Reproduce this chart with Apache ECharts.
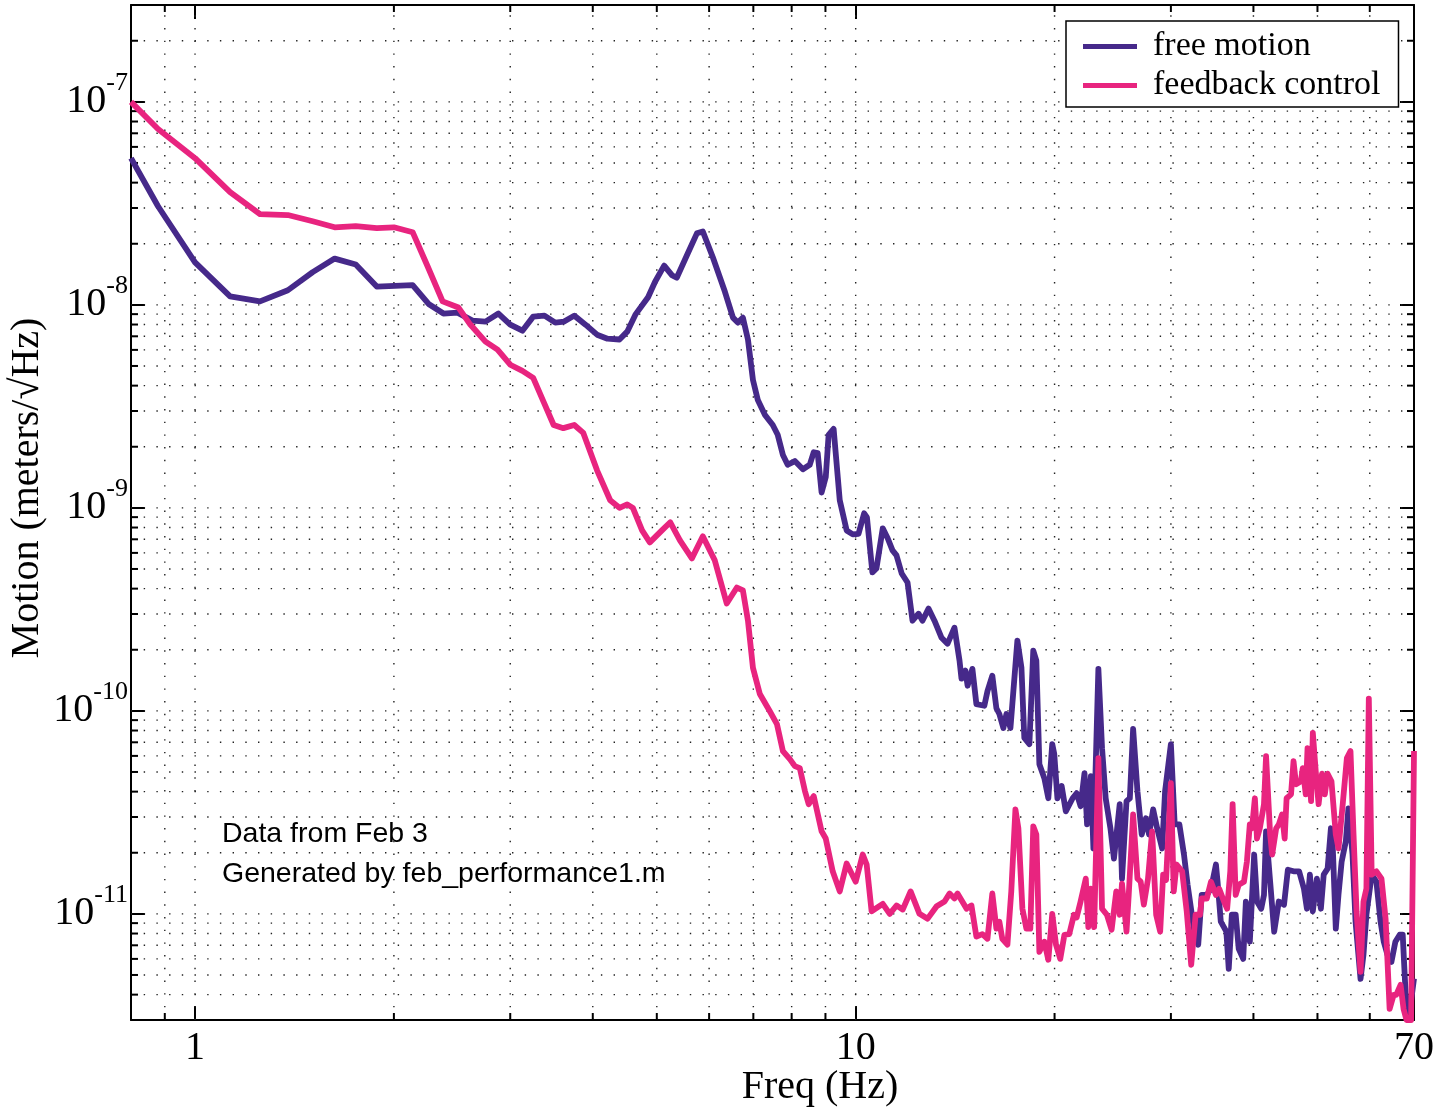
<!DOCTYPE html>
<html>
<head>
<meta charset="utf-8">
<title>free motion vs feedback control</title>
<script src="https://cdn.jsdelivr.net/npm/echarts@6/dist/echarts.min.js"></script>
<style>
  html, body { margin: 0; padding: 0; background: #fff; }
  #main { width: 1440px; height: 1111px; }
</style>
</head>
<body>
<div id="main"></div>
<script>
// free motion spectrum (Hz, meters/sqrt(Hz))
var freeFreq = [
  0.8, 0.879, 1.0, 1.13, 1.254, 1.382, 1.507, 1.627, 1.751, 1.884,
  2.135, 2.257, 2.377, 2.496, 2.63, 2.752, 2.879, 3.0, 3.13, 3.25,
  3.38, 3.51, 3.62, 3.75, 3.9, 4.06, 4.21, 4.39, 4.51, 4.64,
  4.85, 4.97, 5.13, 5.27, 5.36, 5.56, 5.75, 5.87, 6.08, 6.34,
  6.52, 6.63, 6.75, 6.87, 6.99, 7.11, 7.29, 7.49, 7.62, 7.76,
  7.89, 8.09, 8.32, 8.52, 8.64, 8.76, 8.88, 9.01, 9.1, 9.26,
  9.46, 9.69, 9.9, 10.1, 10.3, 10.4, 10.6, 10.75, 10.99, 11.18,
  11.37, 11.53, 11.74, 11.98, 12.19, 12.45, 12.62, 12.89, 13.16, 13.49,
  13.77, 14.11, 14.36, 14.46, 14.66, 14.77, 15.02, 15.23, 15.66, 15.83,
  16.1, 16.33, 16.5, 16.73, 16.91, 17.15, 17.57, 17.82, 18.0, 18.32,
  18.57, 18.77, 18.97, 19.3, 19.57, 19.84, 19.98, 20.2, 20.5, 20.8,
  21.3, 21.6, 21.9, 22.2, 22.4, 22.7, 22.9, 23.3, 23.6, 23.9,
  24.3, 24.6, 25.1, 25.3, 25.7, 26.0, 26.3, 26.7, 27.1, 27.5,
  27.8, 28.2, 28.6, 29.1, 29.4, 30.0, 30.4, 30.9, 31.4, 31.8,
  32.5, 33.0, 33.4, 34.0, 34.5, 35.1, 35.3, 35.7, 36.4, 36.7,
  37.1, 37.6, 38.0, 38.6, 38.96, 39.5, 40.1, 40.5, 41.1, 41.5,
  41.8, 42.4, 43.0, 43.7, 44.5, 45.1, 46.0, 46.9, 47.7, 48.2,
  48.7, 49.2, 49.9, 50.6, 51.1, 51.8, 52.4, 52.7, 53.3, 53.8,
  54.4, 55.2, 55.7, 56.5, 57.1, 58.1, 58.7, 59.3, 60.4, 61.4,
  62.3, 63.0, 63.8, 64.7, 65.6, 66.6, 67.3, 68.0, 68.7, 70
]
var freeAmp = [
  5.28e-8, 3.06e-8, 1.62e-8, 1.10e-8, 1.04e-8, 1.18e-8, 1.45e-8, 1.69e-8, 1.58e-8, 1.23e-8,
  1.25e-8, 1.01e-8, 9.06e-9, 9.16e-9, 8.36e-9, 8.27e-9, 9.06e-9, 7.99e-9, 7.46e-9, 8.75e-9,
  8.85e-9, 8.18e-9, 8.27e-9, 8.85e-9, 7.99e-9, 7.13e-9, 6.81e-9, 6.75e-9, 7.38e-9, 8.95e-9,
  1.09e-8, 1.30e-8, 1.56e-8, 1.40e-8, 1.36e-8, 1.77e-8, 2.25e-8, 2.30e-8, 1.71e-8, 1.16e-8,
  8.65e-9, 8.18e-9, 8.65e-9, 6.74e-9, 4.27e-9, 3.40e-9, 2.87e-9, 2.56e-9, 2.29e-9, 1.82e-9,
  1.63e-9, 1.70e-9, 1.55e-9, 1.63e-9, 1.88e-9, 1.86e-9, 1.19e-9, 1.42e-9, 2.29e-9, 2.45e-9,
  1.09e-9, 7.74e-10, 7.40e-10, 7.45e-10, 9.40e-10, 8.98e-10, 4.81e-10, 5.03e-10, 7.93e-10, 7.08e-10,
  6.17e-10, 5.83e-10, 4.75e-10, 4.29e-10, 2.78e-10, 3.01e-10, 2.78e-10, 3.19e-10, 2.78e-10, 2.29e-10,
  2.14e-10, 2.57e-10, 1.77e-10, 1.44e-10, 1.58e-10, 1.33e-10, 1.61e-10, 1.08e-10, 1.06e-10, 1.25e-10,
  1.49e-10, 1.03e-10, 9.65e-11, 8.23e-11, 9.65e-11, 8.23e-11, 2.22e-10, 1.63e-10, 7.35e-11, 6.86e-11,
  1.98e-10, 1.77e-10, 5.46e-11, 4.66e-11, 3.71e-11, 6.86e-11, 6.12e-11, 3.71e-11, 4.26e-11, 3.20e-11,
  3.71e-11, 3.93e-11, 3.39e-11, 4.93e-11, 2.76e-11, 4.77e-11, 2.10e-11, 1.61e-10, 6.55e-11, 3.71e-11,
  2.64e-11, 1.87e-11, 3.47e-11, 1.49e-11, 3.59e-11, 3.71e-11, 8.14e-11, 4.02e-11, 2.46e-11, 2.96e-11,
  2.46e-11, 3.27e-11, 2.64e-11, 2.10e-11, 4.02e-11, 6.86e-11, 2.76e-11, 2.76e-11, 1.96e-11, 1.39e-11,
  8.45e-12, 7.05e-12, 1.24e-11, 1.24e-11, 1.33e-11, 1.75e-11, 1.44e-11, 9.15e-12, 8.17e-12, 5.36e-12,
  9.9e-12, 9.9e-12, 6.73e-12, 6.0e-12, 1.15e-11, 7.29e-12, 1.96e-11, 1.15e-11, 1.06e-11, 1.24e-11,
  2.55e-11, 1.44e-11, 8.17e-12, 1.15e-11, 1.11e-11, 1.65e-11, 1.62e-11, 1.62e-11, 1.33e-11, 1.06e-11,
  1.56e-11, 1.03e-11, 1.49e-11, 1.06e-11, 1.56e-11, 1.67e-11, 2.64e-11, 2.28e-11, 8.45e-12, 1.24e-11,
  1.81e-11, 2.28e-11, 3.31e-11, 1.96e-11, 9.15e-12, 4.78e-12, 6.3e-12, 9.9e-12, 1.56e-11, 1.44e-11,
  9.15e-12, 7.29e-12, 6.3e-12, 5.8e-12, 7.29e-12, 7.89e-12, 7.89e-12, 3.99e-12, 3.0e-12, 4.8e-12
]

// feedback control spectrum
var fbFreq = [
  0.8, 0.879, 1.0, 1.13, 1.254, 1.382, 1.507, 1.627, 1.751, 1.884,
  2.0, 2.135, 2.249, 2.37, 2.505, 2.61, 2.752, 2.87, 3.0, 3.13,
  3.25, 3.37, 3.49, 3.61, 3.75, 3.87, 4.06, 4.25, 4.39, 4.51,
  4.6, 4.75, 4.88, 5.09, 5.24, 5.42, 5.65, 5.87, 6.12, 6.38,
  6.61, 6.75, 6.87, 6.99, 7.16, 7.41, 7.6, 7.76, 7.95, 8.09,
  8.23, 8.38, 8.49, 8.64, 8.88, 9.01, 9.23, 9.46, 9.69, 10.0,
  10.25, 10.39, 10.57, 10.99, 11.26, 11.53, 11.78, 12.11, 12.49, 12.85,
  13.26, 13.63, 13.87, 14.11, 14.26, 14.72, 14.97, 15.23, 15.55, 15.83,
  16.1, 16.33, 16.5, 16.67, 16.97, 17.2, 17.45, 17.63, 17.88, 18.13,
  18.38, 18.57, 18.77, 18.97, 19.3, 19.57, 19.84, 20.1, 20.4, 20.7,
  21.05, 21.4, 21.6, 21.9, 22.3, 22.5, 22.7, 22.96, 23.3, 23.6,
  24.0, 24.4, 24.8, 25.1, 25.3, 25.7, 25.9, 26.3, 26.7, 27.0,
  27.3, 27.7, 28.1, 28.5, 28.9, 29.2, 29.5, 30.0, 30.3, 30.6,
  31.2, 31.7, 32.2, 32.7, 33.2, 33.4, 34.0, 34.5, 35.1, 35.5,
  36.1, 36.5, 36.9, 37.2, 37.6, 38.0, 38.7, 39.1, 39.5, 39.8,
  40.2, 40.5, 40.9, 41.5, 41.8, 42.4, 42.7, 43.3, 43.7, 44.2,
  44.6, 44.9, 45.6, 46.0, 46.4, 47.2, 47.5, 48.0, 48.3, 48.9,
  49.2, 49.7, 50.2, 50.8, 51.3, 51.8, 52.5, 53.3, 53.8, 54.6,
  55.4, 56.1, 56.7, 57.3, 58.1, 58.7, 59.3, 59.8, 60.4, 61.4,
  62.5, 63.4, 64.3, 65.2, 65.8, 66.8, 67.5, 68.2, 69.3, 70
]
var fbAmp = [
  1.0e-7, 7.35e-8, 5.28e-8, 3.59e-8, 2.80e-8, 2.77e-8, 2.58e-8, 2.41e-8, 2.44e-8, 2.39e-8,
  2.41e-8, 2.28e-8, 1.55e-8, 1.04e-8, 9.7e-9, 8.0e-9, 6.59e-9, 6.02e-9, 5.07e-9, 4.73e-9,
  4.37e-9, 3.33e-9, 2.56e-9, 2.47e-9, 2.56e-9, 2.34e-9, 1.53e-9, 1.09e-9, 1.0e-9, 1.04e-9,
  1.0e-9, 7.75e-10, 6.76e-10, 7.75e-10, 8.49e-10, 6.92e-10, 5.64e-10, 7.24e-10, 5.51e-10, 3.38e-10,
  4.05e-10, 3.92e-10, 2.78e-10, 1.63e-10, 1.21e-10, 9.99e-11, 8.61e-11, 6.34e-11, 5.78e-11, 5.34e-11,
  5.22e-11, 4.02e-11, 3.47e-11, 3.80e-11, 2.55e-11, 2.35e-11, 1.62e-11, 1.29e-11, 1.77e-11, 1.44e-11,
  1.96e-11, 1.75e-11, 1.03e-11, 1.12e-11, 1.0e-11, 1.1e-11, 1.05e-11, 1.29e-11, 1.0e-11, 9.47e-12,
  1.09e-11, 1.15e-11, 1.26e-11, 1.19e-11, 1.26e-11, 1.06e-11, 1.1e-11, 7.72e-12, 7.95e-12, 7.54e-12,
  1.26e-11, 8.45e-12, 9.15e-12, 7.54e-12, 7.05e-12, 1.29e-11, 3.27e-11, 2.64e-11, 1.06e-11, 8.45e-12,
  8.45e-12, 2.70e-11, 2.46e-11, 6.5e-12, 7.29e-12, 5.94e-12, 1.0e-11, 7.05e-12, 6.0e-12, 7.89e-12,
  7.95e-12, 9.9e-12, 9.6e-12, 1.15e-11, 1.49e-11, 8.6e-12, 1.33e-11, 8.6e-12, 5.85e-11, 1.06e-11,
  9.9e-12, 8.35e-12, 1.29e-11, 9.9e-12, 1.41e-11, 8.17e-12, 1.24e-11, 3.09e-11, 1.49e-11, 1.44e-11,
  1.11e-11, 1.49e-11, 2.55e-11, 9.9e-12, 8.17e-12, 1.56e-11, 1.47e-11, 4.40e-11, 1.29e-11, 1.75e-11,
  1.62e-11, 1.03e-11, 5.61e-12, 9.9e-12, 9.9e-12, 1.19e-11, 1.19e-11, 1.44e-11, 1.24e-11, 1.33e-11,
  1.15e-11, 1.06e-11, 1.62e-11, 3.47e-11, 1.24e-11, 1.39e-11, 1.44e-11, 1.81e-11, 2.76e-11, 2.64e-11,
  3.71e-11, 2.35e-11, 2.64e-11, 3.47e-11, 5.98e-11, 2.46e-11, 1.96e-11, 2.64e-11, 2.76e-11, 3.09e-11,
  2.35e-11, 3.71e-11, 3.88e-11, 5.65e-11, 4.35e-11, 4.5e-11, 5.22e-11, 3.88e-11, 6.55e-11, 3.59e-11,
  7.78e-11, 5.04e-11, 3.47e-11, 4.9e-11, 3.88e-11, 4.9e-11, 4.5e-11, 2.46e-11, 2.1e-11, 3.47e-11,
  5.85e-11, 6.34e-11, 2.46e-11, 1.03e-11, 5.18e-12, 1.15e-11, 1.33e-11, 1.15e-10, 1.56e-11, 1.62e-11,
  1.49e-11, 9.45e-12, 3.4e-12, 3.99e-12, 3.99e-12, 4.47e-12, 3.4e-12, 3.0e-12, 3.0e-12, 6.34e-11
]

// axis ranges and labelled ticks
var xRange = [0.8, 70]
var yRange = [3e-12, 3e-7]
var xTickLabels = [1, 10, 70]
var yTickExps = [-11, -10, -9, -8, -7]

var serif = '"Liberation Serif", "DejaVu Serif", serif'
var sans = '"Liberation Sans", Arial, sans-serif'

function pairs(xs, ys) {
  return xs.map(function (x, i) { return [x, ys[i]] })
}

// grid lines at 1..9 x 10^n, built from the ranges (drawn through the axes)
var gridData = []
for (var d = -2; d <= 2; d++) {
  for (var m = 1; m <= 9; m++) {
    var v = m * Math.pow(10, d)
    if (v > xRange[0] * 1.01 && v < xRange[1] * 0.99) gridData.push([v, 1e-9, 0, m === 1 ? 1 : 0])
  }
}
for (var e = -12; e <= -7; e++) {
  for (var k = 1; k <= 9; k++) {
    var w = k * Math.pow(10, e)
    if (w > yRange[0] * 1.01 && w < yRange[1] * 0.99) gridData.push([1, w, 1, k === 1 ? 1 : 0])
  }
}

function renderGrid(params, api) {
  var cs = params.coordSys
  var p = api.coord([api.value(0), api.value(1)])
  var vertical = api.value(2) === 0
  var major = api.value(3) === 1
  var dot = { stroke: '#222', lineWidth: 1.4, lineDash: [1.4, 11.3] }
  var tick = { stroke: '#000', lineWidth: 2 }
  var t = 7
  var kids = []
  var L = cs.x, R = cs.x + cs.width, T = cs.y, B = cs.y + cs.height
  if (vertical) {
    kids.push({ type: 'line', shape: { x1: p[0], y1: B, x2: p[0], y2: T }, style: dot })
    if (!major) {
      kids.push({ type: 'line', shape: { x1: p[0], y1: B, x2: p[0], y2: B - t }, style: tick })
      kids.push({ type: 'line', shape: { x1: p[0], y1: T, x2: p[0], y2: T + t }, style: tick })
    }
  } else {
    kids.push({ type: 'line', shape: { x1: L, y1: p[1], x2: R, y2: p[1] }, style: dot })
    if (!major) {
      kids.push({ type: 'line', shape: { x1: L, y1: p[1], x2: L + t, y2: p[1] }, style: tick })
      kids.push({ type: 'line', shape: { x1: R, y1: p[1], x2: R - t, y2: p[1] }, style: tick })
    }
  }
  return { type: 'group', children: kids }
}

function xLabel(val) {
  for (var i = 0; i < xTickLabels.length; i++) {
    if (Math.abs(val - xTickLabels[i]) < 1e-6 * xTickLabels[i] + 1e-9) return String(xTickLabels[i])
  }
  return ''
}

function yLabel(val) {
  var ex = Math.log10(val)
  var r = Math.round(ex)
  if (Math.abs(ex - r) > 1e-6 || yTickExps.indexOf(r) < 0) return ''
  return '{m|10}{s|' + r + '}'
}

var axisCommon = {
  type: 'log',
  logBase: 10,
  axisLine: { show: true, onZero: false, lineStyle: { color: '#000', width: 2 } },
  axisTick: { show: true, inside: true, length: 14, lineStyle: { color: '#000', width: 2 } },
  splitLine: { show: false },
  minorTick: { show: false },
  minorSplitLine: { show: false }
}

var myChart = echarts.init(document.getElementById('main'))
var option = {
  animation: false,
  backgroundColor: '#fff',
  grid: { left: 131, top: 5, right: 26, bottom: 91, containLabel: false },
  xAxis: [
    Object.assign({}, axisCommon, {
      position: 'bottom',
      min: xRange[0],
      max: xRange[1],
      axisLabel: { formatter: xLabel, color: '#000', fontFamily: serif, fontSize: 40, margin: 8 }
    }),
    Object.assign({}, axisCommon, {
      position: 'top',
      min: xRange[0],
      max: xRange[1],
      axisLabel: { show: false }
    })
  ],
  yAxis: [
    Object.assign({}, axisCommon, {
      position: 'left',
      min: yRange[0],
      max: yRange[1],
      axisLabel: {
        formatter: yLabel,
        color: '#000',
        margin: 3,
        rich: {
          m: { fontFamily: serif, fontSize: 40, lineHeight: 64, color: '#000' },
          s: { fontFamily: serif, fontSize: 26, lineHeight: 26, verticalAlign: 'top', color: '#000' }
        }
      }
    }),
    Object.assign({}, axisCommon, {
      position: 'right',
      min: yRange[0],
      max: yRange[1],
      axisLabel: { show: false }
    })
  ],
  legend: {
    data: ['free motion', 'feedback control'],
    orient: 'vertical',
    left: 1066,
    top: 21,
    padding: [8, 18, 4, 17],
    itemGap: 4,
    itemWidth: 54,
    itemHeight: 5,
    icon: 'rect',
    backgroundColor: '#fff',
    borderColor: '#000',
    borderWidth: 1.5,
    borderRadius: 0,
    textStyle: { fontFamily: serif, fontSize: 34, lineHeight: 35, color: '#000', padding: [0, 0, 0, 11] }
  },
  graphic: [
    {
      type: 'text',
      x: 820,
      y: 1087,
      style: { text: 'Freq (Hz)', font: '40px ' + serif, fill: '#000', align: 'center', verticalAlign: 'middle' }
    },
    {
      type: 'text',
      x: 27,
      y: 488,
      rotation: Math.PI / 2,
      style: { text: 'Motion (meters/\u221AHz)', font: '40px ' + serif, fill: '#000', align: 'center', verticalAlign: 'middle' }
    },
    {
      type: 'text',
      x: 222,
      y: 814,
      style: {
        text: 'Data from Feb 3\nGenerated by feb_performance1.m',
        font: '28.5px ' + sans,
        lineHeight: 40,
        fill: '#000',
        align: 'left',
        verticalAlign: 'top'
      }
    }
  ],
  series: [
    {
      name: 'grid',
      type: 'custom',
      xAxisIndex: 0,
      yAxisIndex: 0,
      silent: true,
      z: 1,
      dimensions: ['x', 'y', 'dir', 'major'],
      encode: { x: 0, y: 1 },
      renderItem: renderGrid,
      data: gridData
    },
    {
      name: 'free motion',
      type: 'line',
      xAxisIndex: 0,
      yAxisIndex: 0,
      z: 3,
      showSymbol: false,
      symbol: 'none',
      color: '#46298a',
      lineStyle: { color: '#46298a', width: 5.8, join: 'round' },
      data: pairs(freeFreq, freeAmp)
    },
    {
      name: 'feedback control',
      type: 'line',
      xAxisIndex: 0,
      yAxisIndex: 0,
      z: 4,
      showSymbol: false,
      symbol: 'none',
      color: '#e8247f',
      lineStyle: { color: '#e8247f', width: 5.8, join: 'round' },
      data: pairs(fbFreq, fbAmp)
    }
  ]
}
myChart.setOption(option)
</script>
</body>
</html>
